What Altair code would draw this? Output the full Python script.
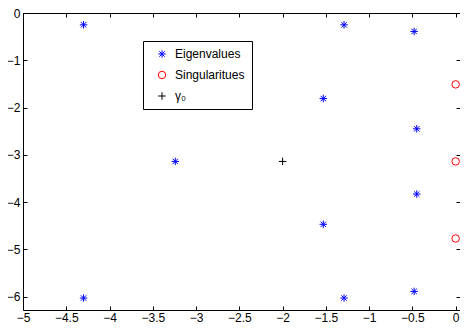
import altair as alt
import pandas as pd

# --- data ---
eig_x = [-4.30, -3.24, -4.30, -1.29, -0.48, -1.53, -0.45, -0.45, -1.53, -1.29, -0.48]
eig_y = [-0.25, -3.14, -6.03, -0.25, -0.39, -1.81, -2.45, -3.83, -4.47, -6.03, -5.89]
sing_x = [0.0, 0.0, 0.0]
sing_y = [-1.51, -3.14, -4.77]
gamma_x = [-2.0]
gamma_y = [-3.14]
series = ["Eigenvalues", "Singularitues", "γ₀"]
colors = ["#0000ff", "#ff0000", "#000000"]
x_ticks = [-5, -4.5, -4, -3.5, -3, -2.5, -2, -1.5, -1, -0.5, 0]
y_ticks = [-6, -5, -4, -3, -2, -1, 0]

rows = []
for xv, yv in zip(eig_x, eig_y):
    rows.append({"x": xv, "y": yv, "series": series[0]})
for xv, yv in zip(sing_x, sing_y):
    rows.append({"x": xv, "y": yv, "series": series[1]})
for xv, yv in zip(gamma_x, gamma_y):
    rows.append({"x": xv, "y": yv, "series": series[2]})
df = pd.DataFrame(rows)

asterisk = "M0,-1L0,1M-1,0L1,0M-0.72,-0.72L0.72,0.72M-0.72,0.72L0.72,-0.72"
plus = "M-1,0L1,0M0,-1L0,1"

FONT = "Liberation Sans"
W, H = 437, 297
xs = alt.Scale(domain=[-5, 0.05], nice=False, zero=False)
ys = alt.Scale(domain=[-6.2832, 0], nice=False, zero=False)

legend = alt.Legend(
    title=None,
    orient="none",
    legendX=120,
    legendY=28,
    fillColor="white",
    strokeColor="black",
    padding=7,
    rowPadding=9,
    symbolSize=56,
    symbolStrokeWidth=1,
    symbolOffset=6,
    labelOffset=7,
    labelFont=FONT,
    labelFontSize=12,
    labelColor="black",
)

base_axis = dict(domainColor="black", tickColor="black", domainWidth=1,
                 tickWidth=1, grid=False)

# layer 1: the points, with labelled bottom/left axes
pts = alt.Chart(df).mark_point(filled=False, size=56, strokeWidth=1, opacity=1).encode(
    x=alt.X("x:Q", scale=xs, title=None,
            axis=alt.Axis(orient="bottom", values=x_ticks, format="~g", ticks=False,
                          labelFont=FONT, labelFontSize=12, labelColor="black",
                          labelPadding=2, labelFlush=False, **base_axis)),
    y=alt.Y("y:Q", scale=ys, title=None,
            axis=alt.Axis(orient="left", values=y_ticks, format="~g", ticks=False,
                          labelFont=FONT, labelFontSize=12, labelColor="black",
                          labelPadding=3, labelFlush=False, **base_axis)),
    color=alt.Color("series:N", scale=alt.Scale(domain=series, range=colors), legend=legend),
    shape=alt.Shape("series:N", scale=alt.Scale(domain=series, range=[asterisk, "circle", plus]), legend=legend),
)

# layer 2: inward ticks on bottom and left edges (axes flipped across the plot)
ticks_bl = alt.Chart(df).mark_point(opacity=0).encode(
    x=alt.X("x:Q", scale=xs, title=None,
            axis=alt.Axis(orient="top", offset=-H, values=x_ticks, labels=False,
                          domain=False, tickSize=4, **base_axis)),
    y=alt.Y("y:Q", scale=ys, title=None,
            axis=alt.Axis(orient="right", offset=-W, values=y_ticks, labels=False,
                          domain=False, tickSize=4, **base_axis)),
)

# layer 3: top border line with inward ticks, inward ticks on right edge
ticks_tr = alt.Chart(df).mark_point(opacity=0).encode(
    x=alt.X("x:Q", scale=xs, title=None,
            axis=alt.Axis(orient="bottom", offset=-H, values=x_ticks, labels=False,
                          domain=True, tickSize=4, **base_axis)),
    y=alt.Y("y:Q", scale=ys, title=None,
            axis=alt.Axis(orient="left", offset=-W, values=y_ticks, labels=False,
                          domain=False, tickSize=4, **base_axis)),
)

chart = alt.layer(pts, ticks_bl, ticks_tr).resolve_axis(x="independent", y="independent").properties(
    width=W,
    height=H,
    padding={"left": 15, "top": 5, "right": 0, "bottom": 14},
    autosize="none",
).configure_view(stroke=None)

chart.save("out.html", embed_options={"renderer": "svg", "actions": False})
